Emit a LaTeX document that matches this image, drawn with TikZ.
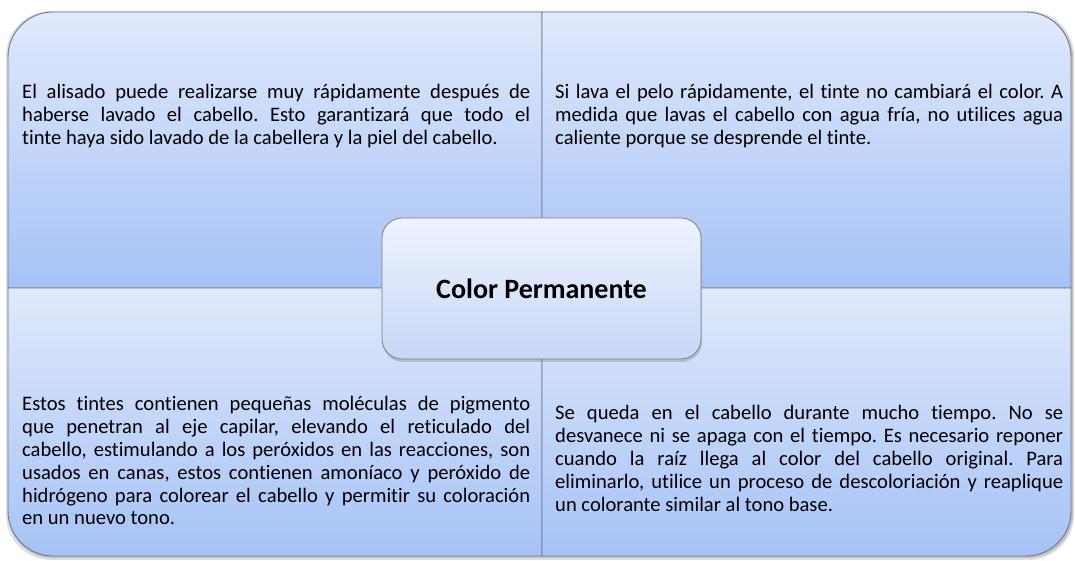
\documentclass[tikz,border=0pt]{standalone}
\usepackage{fontspec}
\setmainfont{Carlito}[Ligatures=NoCommon]
\usepackage{xcolor}
\usetikzlibrary{shadows}
\definecolor{paneltop}{RGB}{224,233,252}
\definecolor{panelbottom}{RGB}{166,194,246}
\definecolor{titletop}{RGB}{238,243,254}
\definecolor{titlebottom}{RGB}{199,215,247}
\definecolor{edgegray}{RGB}{112,121,138}
\frenchspacing

\begin{document}
\begin{tikzpicture}[
  x=1pt,
  y=1pt,
  panel/.style={
    top color=paneltop,
    bottom color=panelbottom,
    draw=edgegray,
    line width=0.9pt
  },
  blurb/.style={
    anchor=base west,
    inner sep=0pt,
    text width=508pt,
    align=justify,
    font=\fontsize{20.6}{22.8}\selectfont
  },
  title/.style={
    rounded corners=20pt,
    minimum width=319pt,
    minimum height=141pt,
    top color=titletop,
    bottom color=titlebottom,
    draw=gray,
    line width=0.8pt,
    drop shadow={shadow xshift=1pt, shadow yshift=-3pt, opacity=0.35},
    font=\fontsize{28}{34}\selectfont\bfseries
  }
]
  \useasboundingbox (0,0) rectangle (1075,561);
  \fill[black, opacity=0.12, rounded corners=45pt] (6,1) rectangle (1074,550);
  \fill[black, opacity=0.15, rounded corners=45pt] (8,3) rectangle (1073,548);
  \path[panel] (542,273) -- (8,273) -- (8,504)
    arc[start angle=180, end angle=90, radius=45pt] -- (542,549) -- cycle;
  \path[panel] (542,273) -- (542,549) -- (1026,549)
    arc[start angle=90, end angle=0, radius=45pt] -- (1071,273) -- cycle;
  \path[panel] (542,273) -- (8,273) -- (8,50)
    arc[start angle=180, end angle=270, radius=45pt] -- (542,5) -- cycle;
  \path[panel] (542,273) -- (1071,273) -- (1071,50)
    arc[start angle=0, end angle=-90, radius=45pt] -- (542,5) -- cycle;
  \node[blurb] (alisado) at (22,462)
    {El alisado puede realizarse muy rápidamente después de\linebreak
     haberse lavado el cabello. Esto garantizará que todo el\linebreak
     tinte haya sido lavado de la cabellera y la piel del cabello.};
  \node[blurb] (lavado) at (555,462)
    {Si lava el pelo rápidamente, el tinte no cambiará el color. A\linebreak
     medida que lavas el cabello con agua fría, no utilices agua\linebreak
     caliente porque se desprende el tinte.};
  \node[blurb] (tintes) at (22,150)
    {Estos tintes contienen pequeñas moléculas de pigmento\linebreak
     que penetran al eje capilar, elevando el reticulado del\linebreak
     cabello, estimulando a los peróxidos en las reacciones, son\linebreak
     usados en canas, estos contienen amoníaco y peróxido de\linebreak
     hidrógeno para colorear el cabello y permitir su coloración\linebreak
     en un nuevo tono.};
  \node[blurb] (duracion) at (555,141)
    {Se queda en el cabello durante mucho tiempo. No se\linebreak
     desvanece ni se apaga con el tiempo. Es necesario reponer\linebreak
     cuando la raíz llega al color del cabello original. Para\linebreak
     eliminarlo, utilice un proceso de descoloriación y reaplique\linebreak
     un colorante similar al tono base.};
  \node[title] (permanente) at (541.5,272.5) {Color Permanente};
\end{tikzpicture}
\end{document}
